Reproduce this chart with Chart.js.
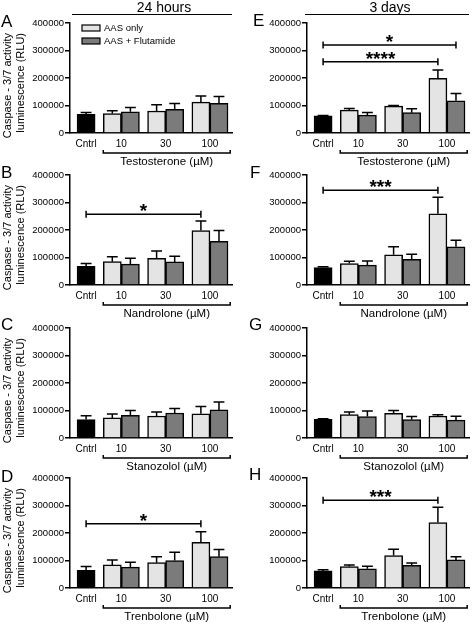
<!DOCTYPE html>
<html>
<head>
<meta charset="utf-8">
<script src="https://cdn.jsdelivr.net/npm/chart.js@4.4.0/dist/chart.umd.min.js"></script>
<style>
  body { margin: 0; width: 474px; height: 625px; overflow: hidden; position: relative; background: #fff;
         font-family: 'Liberation Sans', Arial, sans-serif; color: #000; }
  canvas { position: absolute; }
  .hdr { position: absolute; font-size: 14px; line-height: 14px; white-space: nowrap; transform: translateX(-50%); }
  .rule { position: absolute; height: 0; border-top: 1.5px solid #000; }
  .letter { position: absolute; font-size: 17px; line-height: 17px; z-index: 2; }
</style>
</head>
<body>
<div id="wrap"></div>
<script>
const doseLabels = ['Cntrl', '10', '30', '100'];
const seriesLabels = ['AAS only', 'AAS + Flutamide'];
const compounds = ['Testosterone (µM)', 'Nandrolone (µM)', 'Stanozolol (µM)', 'Trenbolone (µM)'];
const timepoints = ['24 hours', '3 days'];
const panelLetters = [['A', 'B', 'C', 'D'], ['E', 'F', 'G', 'H']];
const yTicks = [0, 100000, 200000, 300000, 400000];
const yTitle = ['Caspase - 3/7 activity', 'luminescence (RLU)'];

// 24 hours (rows: testosterone, nandrolone, stanozolol, trenbolone; columns: 10, 30, 100 µM)
const ctrl24 = [68000, 68000, 67000, 64000];
const ctrlErr24 = [7000, 10000, 14000, 14000];
const aas24 = [[71000, 80000, 112000], [85000, 97000, 198000], [73000, 80000, 88000], [84000, 92000, 166000]];
const aasErr24 = [[10000, 23000, 23000], [18000, 27000, 35000], [14000, 15000, 27000], [18000, 22000, 39000]];
const flut24 = [[77000, 86000, 108000], [76000, 84000, 159000], [82000, 91000, 102000], [76000, 100000, 114000]];
const flutErr24 = [[16000, 21000, 25000], [21000, 21000, 39000], [18000, 16000, 29000], [18000, 30000, 26000]];

// 3 days
const ctrl3d = [62000, 63000, 68000, 62000];
const ctrlErr3d = [2000, 3000, 2000, 4000];
const aas3d = [[83000, 98000, 199000], [78000, 110000, 259000], [85000, 90000, 80000], [78000, 118000, 238000]];
const aasErr3d = [[6000, 2000, 30000], [8000, 29000, 60000], [10000, 10000, 5000], [6000, 23000, 56000]];
const flut3d = [[65000, 74000, 117000], [72000, 93000, 139000], [78000, 67000, 65000], [70000, 82000, 102000]];
const flutErr3d = [[10000, 14000, 27000], [15000, 19000, 24000], [20000, 11000, 14000], [9000, 9000, 12000]];

// significance brackets: [row, from bar, to bar, value, stars]
const sig24 = [[1, 'ctrl', 'aas2', 257000, '*'], [3, 'ctrl', 'aas2', 234000, '*']];
const sig3d = [[0, 'ctrl', 'flut2', 320000, '*'], [0, 'ctrl', 'aas2', 259000, '****'],
               [1, 'ctrl', 'aas2', 345000, '***'], [3, 'ctrl', 'aas2', 319000, '***']];

Chart.defaults.font.family = "'Liberation Sans', Arial, sans-serif";
Chart.defaults.color = '#000';

// bar slots on the linear x axis (1 unit = one bar)
const GAP = 0.45;
const aasX = [0, 1, 2].map(i => 1 + GAP + i * (2 + GAP));
const flutX = aasX.map(x => x + 1);
const doseX = [0].concat(aasX.map(x => x + 0.5));
const slotX = { ctrl: 0, aas0: aasX[0], aas1: aasX[1], aas2: aasX[2], flut0: flutX[0], flut1: flutX[1], flut2: flutX[2] };

const zeroY = [133, 285, 438, 588];
const colLeft = [0, 237];
const FONT = "'Liberation Sans', Arial, sans-serif";
const wrap = document.getElementById('wrap');

function addDiv(cls, text, style) {
  const d = document.createElement('div');
  d.className = cls;
  d.textContent = text;
  d.setAttribute('style', style);
  document.body.appendChild(d);
}

addDiv('hdr', timepoints[0], 'left:164px;top:0px');
addDiv('hdr', timepoints[1], 'left:390px;top:0px');
addDiv('rule', '', 'left:72px;top:14px;width:160px');
addDiv('rule', '', 'left:305px;top:14px;width:164px');

function extrasPlugin(col, row, sigs) {
  return {
    id: 'panelExtras',
    afterDatasetsDraw(chart) {
      const ctx = chart.ctx;
      const xs = chart.scales.x, ys = chart.scales.y;
      const area = chart.chartArea;
      ctx.save();
      ctx.strokeStyle = '#000';
      ctx.fillStyle = '#000';
      ctx.lineWidth = 1.5;

      // error bars (upper only)
      chart.data.datasets.forEach((ds, di) => {
        chart.getDatasetMeta(di).data.forEach((bar, i) => {
          const top = ys.getPixelForValue(ds.data[i].y + ds.errors[i]);
          const cap = bar.width * 0.3;
          ctx.beginPath();
          ctx.moveTo(bar.x, bar.y);
          ctx.lineTo(bar.x, top);
          ctx.moveTo(bar.x - cap, top);
          ctx.lineTo(bar.x + cap, top);
          ctx.stroke();
        });
      });

      // significance brackets
      sigs.forEach(s => {
        const x1 = xs.getPixelForValue(slotX[s[1]]);
        const x2 = xs.getPixelForValue(slotX[s[2]]);
        const y = ys.getPixelForValue(s[3]);
        ctx.beginPath();
        ctx.moveTo(x1, y); ctx.lineTo(x2, y);
        ctx.moveTo(x1, y - 3.5); ctx.lineTo(x1, y + 3.5);
        ctx.moveTo(x2, y - 3.5); ctx.lineTo(x2, y + 3.5);
        ctx.stroke();
        ctx.font = 'bold 19px ' + FONT;
        ctx.textAlign = 'center';
        ctx.textBaseline = 'alphabetic';
        ctx.fillText(s[4], (x1 + x2) / 2, y + 3);
      });

      // dose bracket and compound name under the axis
      const xl = xs.getPixelForValue(aasX[0] - 0.5);
      const xr = xs.getPixelForValue(flutX[2] + 0.62);
      const by = area.bottom + 20;
      ctx.beginPath();
      ctx.moveTo(xl, by - 3); ctx.lineTo(xl, by); ctx.lineTo(xr, by); ctx.lineTo(xr, by - 3);
      ctx.stroke();
      ctx.font = '11.5px ' + FONT;
      ctx.textAlign = 'center';
      ctx.textBaseline = 'middle';
      ctx.fillText(compounds[row], (xl + xr) / 2, by + 9);

      // y axis title, left column only
      if (col === 0) {
        ctx.font = '11px ' + FONT;
        ctx.textAlign = 'right';
        ctx.textBaseline = 'middle';
        yTitle.forEach((line, i) => {
          ctx.save();
          ctx.translate(8 + i * 12.5, area.top + 10);
          ctx.rotate(-Math.PI / 2);
          ctx.fillText(line, 0, 0);
          ctx.restore();
        });
      }

      // legend only in the first panel
      if (col === 0 && row === 0) {
        const fills = ['#e4e4e4', '#7b7b7b'];
        ctx.font = '9.5px ' + FONT;
        ctx.textAlign = 'left';
        seriesLabels.forEach((lab, i) => {
          const ly = area.top + 5 + i * 13;
          ctx.fillStyle = fills[i];
          ctx.fillRect(82, ly - 3, 18, 6);
          ctx.lineWidth = 1.2;
          ctx.strokeRect(82, ly - 3, 18, 6);
          ctx.fillStyle = '#000';
          ctx.fillText(lab, 104, ly);
        });
      }
      ctx.restore();
    }
  };
}

function makePanel(col, row) {
  const z = zeroY[row];
  const canvas = document.createElement('canvas');
  canvas.width = 237;
  canvas.height = 170;
  canvas.style.left = colLeft[col] + 'px';
  canvas.style.top = (z - 125) + 'px';
  wrap.appendChild(canvas);

  const ctrl = col === 0 ? ctrl24 : ctrl3d;
  const ctrlErr = col === 0 ? ctrlErr24 : ctrlErr3d;
  const aas = col === 0 ? aas24 : aas3d;
  const aasErr = col === 0 ? aasErr24 : aasErr3d;
  const flut = col === 0 ? flut24 : flut3d;
  const flutErr = col === 0 ? flutErr24 : flutErr3d;
  const sigs = (col === 0 ? sig24 : sig3d).filter(s => s[0] === row);

  new Chart(canvas, {
    type: 'bar',
    data: {
      datasets: [
        { label: 'Cntrl', data: [{ x: 0, y: ctrl[row] }], errors: [ctrlErr[row]], backgroundColor: '#000' },
        { label: seriesLabels[0], data: aas[row].map((v, i) => ({ x: aasX[i], y: v })), errors: aasErr[row], backgroundColor: '#e4e4e4' },
        { label: seriesLabels[1], data: flut[row].map((v, i) => ({ x: flutX[i], y: v })), errors: flutErr[row], backgroundColor: '#7b7b7b' }
      ]
    },
    options: {
      responsive: false,
      animation: false,
      events: [],
      layout: { padding: { top: 15, right: 5, bottom: 0, left: 0 } },
      datasets: { bar: { grouped: false, barPercentage: 1, categoryPercentage: 1, borderColor: '#000', borderWidth: 1.5 } },
      plugins: { legend: { display: false }, tooltip: { enabled: false } },
      scales: {
        x: {
          type: 'linear',
          offset: false,
          min: -0.89,
          max: 8.07,
          afterBuildTicks: s => { s.ticks = doseX.map(v => ({ value: v })); },
          afterFit: s => { s.height = 45; },
          ticks: { callback: (v, i) => doseLabels[i], font: { size: 10 }, padding: 5, autoSkip: false, maxRotation: 0 },
          grid: { display: false, drawTicks: false, offset: false },
          border: { color: '#000', width: 1.5 }
        },
        y: {
          min: 0,
          max: 400000,
          afterBuildTicks: s => { s.ticks = yTicks.map(v => ({ value: v })); },
          afterFit: s => { s.width = 70; },
          ticks: { callback: v => String(v), font: { size: 9.5 }, padding: 1 },
          grid: { drawOnChartArea: false, drawTicks: true, tickLength: 5, color: '#000', lineWidth: 1.5 },
          border: { color: '#000', width: 1.5 }
        }
      }
    },
    plugins: [extrasPlugin(col, row, sigs)]
  });
}

const letterPos = [[[1, 12.6], [1, 163.6], [1, 315.6], [1, 467.6]], [[253, 11.6], [250, 163.6], [249, 315.6], [249, 465.6]]];
[0, 1].forEach(col => {
  [0, 1, 2, 3].forEach(row => {
    makePanel(col, row);
    addDiv('letter', panelLetters[col][row], 'left:' + letterPos[col][row][0] + 'px;top:' + letterPos[col][row][1] + 'px');
  });
});
</script>
</body>
</html>
